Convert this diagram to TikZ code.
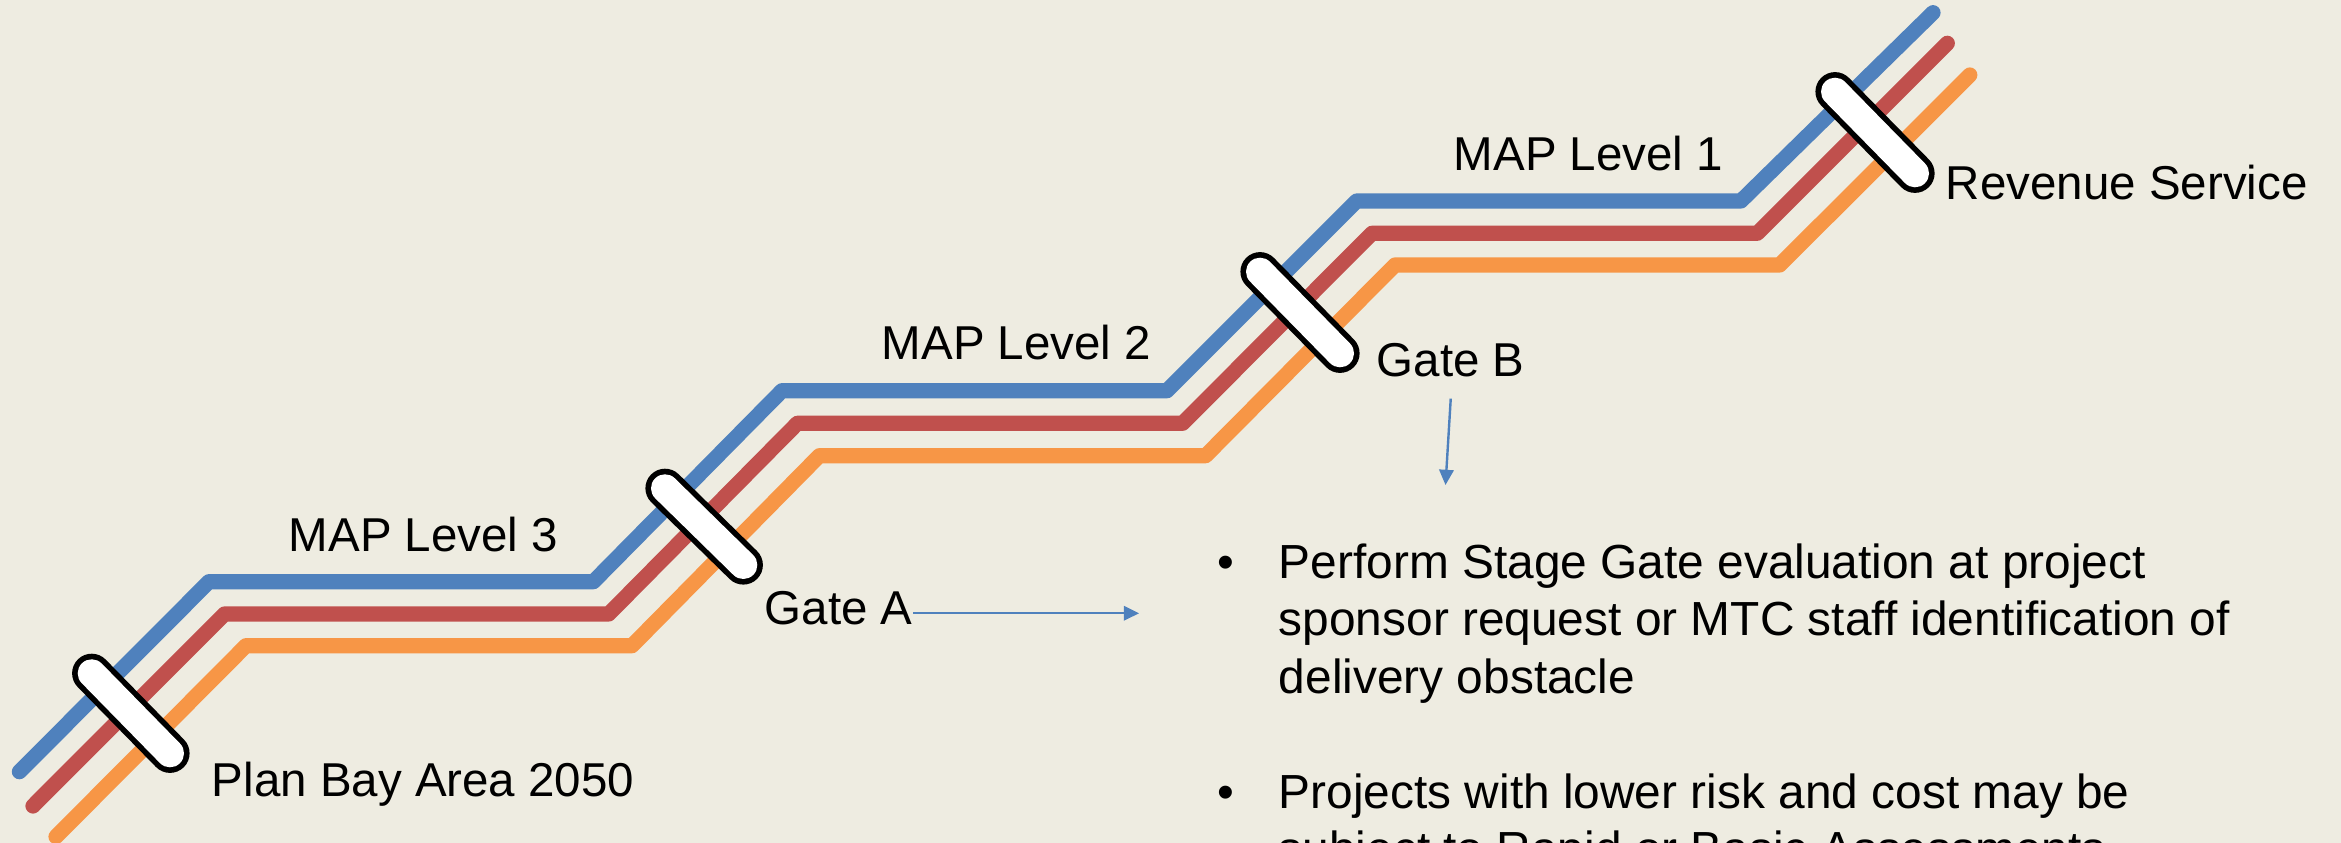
\documentclass[tikz,border=0pt]{standalone}
\usepackage{fontspec}
\setmainfont{Liberation Sans}
\usetikzlibrary{arrows.meta}
\definecolor{bg}{HTML}{EEECE1}
\definecolor{railblue}{HTML}{4F81BD}
\definecolor{railred}{HTML}{C0504D}
\definecolor{railorange}{HTML}{F79646}
\begin{document}
\begin{tikzpicture}[x=0.25pt,y=-0.25pt,
  rail/.style={line width=3.8pt, line cap=round, line join=round},
  pillout/.style={draw=black, line width=9.8pt, line cap=round},
  pillin/.style={draw=white, line width=7pt, line cap=round},
  lbl/.style={inner sep=0pt, anchor=base west, font=\fontsize{11.875}{14.3}\selectfont},
  bodytxt/.style={inner sep=0pt, anchor=base west, font=\fontsize{11.96}{14.4}\selectfont},
  bul/.style={inner sep=0pt, anchor=base, font=\fontsize{11.96}{14.4}\selectfont},
  ptr/.style={draw=railblue, line width=0.6pt, -{Triangle[length=3.8pt,width=3.6pt]}}]
\useasboundingbox (0,0) rectangle (2341,843);
\clip (0,0) rectangle (2341,843);
\fill[bg] (0,0) rectangle (2341,843);
% rails
\draw[rail, railblue] (19.4,771.7) -- (209,581.7) -- (593.4,581.7) -- (782,390.7) -- (1167,390.7) -- (1356.7,201) -- (1740.9,201) -- (1933,12.7);
\draw[rail, railred] (33,806) -- (224.5,614) -- (608.7,614) -- (797.4,423.3) -- (1182.6,423.3) -- (1372,233.3) -- (1757.2,233.3) -- (1947.3,43.3);
\draw[rail, railorange] (56,836.7) -- (246,645.7) -- (632,645.7) -- (819.4,455.7) -- (1205.6,455.7) -- (1395,265) -- (1779.7,265) -- (1969.8,75);
% gates (pills)
\foreach \a/\b in {{(91.7,673.3)}/{(170,753.3)}, {(665,488.3)}/{(743.3,565)}, {(1260,271.7)}/{(1340,353.3)}, {(1835,91.7)}/{(1915,173.3)}}{
  \draw[pillout] \a -- \b;
  \draw[pillin] \a -- \b;
}
% labels
\node[lbl] (map3) at (288,551.7) {MAP Level 3};
\node[lbl] (map2) at (881,360) {MAP Level 2};
\node[lbl] (map1) at (1453,170.5) {MAP Level 1};
\node[lbl] (plan) at (211,796.7) {Plan Bay Area 2050};
\node[lbl] (gateA) at (764,625) {Gate A};
\node[lbl] (gateB) at (1376,376.7) {Gate B};
\node[lbl] (rev) at (1945,199.3) {Revenue Service};
% bullets
\node[bul] (b1) at (1226,578.3) {•};
\node[bodytxt] (t1) at (1278,578.3) {\vtop{\baselineskip=14.375pt\hbox{Perform Stage Gate evaluation at project}\hbox{sponsor request or MTC staff identification of}\hbox{delivery obstacle}}};
\node[bul] (b2) at (1226,808.3) {•};
\node[bodytxt] (t2) at (1278,808.3) {\vtop{\baselineskip=14.375pt\hbox{Projects with lower risk and cost may be}\hbox{subject to Rapid or Basic Assessments}}};
% pointers
\coordinate (gAend) at (1139,613.3);
\draw[ptr] (gateA.east |- gAend) -- (gAend);
\coordinate (gBend) at (1445.5,485);
\draw[ptr] ([yshift=-5.15pt]gateB.south) -- (gBend);
\end{tikzpicture}
\end{document}
